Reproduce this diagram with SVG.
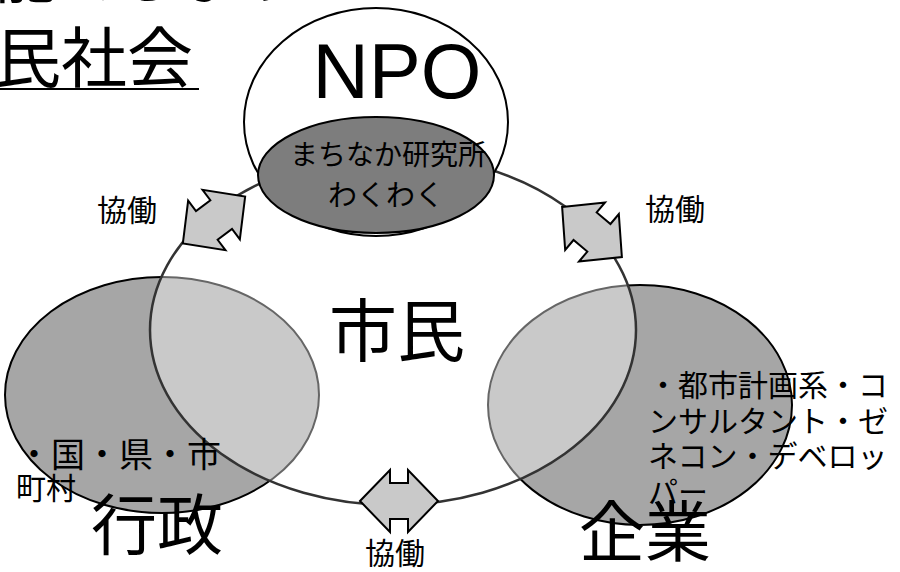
<svg xmlns="http://www.w3.org/2000/svg" width="900" height="572" viewBox="0 0 900 572">
<style>
.jp{font-family:"Noto Sans CJK JP","Noto Sans CJK SC",sans-serif;fill:#000}
.lbl{font-size:30px}
.big{font-size:66px}
.side{fill:#a6a6a6;stroke:#000;stroke-width:2}
.arrow{fill:#c9c9c9;stroke:#000;stroke-width:2;stroke-linejoin:miter}
</style>
<defs>
<path id="dbl" d="M-39,0 L-9,-31 L-9,-18 L9,-18 L9,-31 L39,0 L9,31 L9,18 L-9,18 L-9,31 Z"/>
</defs>
<rect width="900" height="572" fill="#fff"/>
<g id="heading">
<text class="jp" x="-6" y="-2" font-size="62">能でしょうか？</text>
<text class="jp" x="-5" y="82" font-size="66">民社会</text>
<line x1="0" y1="89" x2="199" y2="89" stroke="#000" stroke-width="2"/>
</g>
<g id="gyousei">
<ellipse class="side" cx="162" cy="395" rx="157" ry="118"/>
</g>
<g id="kigyou">
<ellipse class="side" cx="640" cy="405" rx="152" ry="120"/>
</g>
<g id="shimin">
<ellipse cx="393" cy="330" rx="243" ry="175" fill="#fff" fill-opacity="0.4" stroke="#333" stroke-width="2.5"/>
<text class="jp" x="397" y="356" font-size="68" text-anchor="middle">市民</text>
</g>
<g id="npo">
<ellipse cx="376" cy="122" rx="132" ry="114" fill="#fff" stroke="#000" stroke-width="2"/>
<text x="397" y="98" font-family="Liberation Sans, Arial, sans-serif" font-size="78" text-anchor="middle">NPO</text>
</g>
<g id="machinaka">
<ellipse cx="376" cy="175" rx="118" ry="58" fill="#7d7d7d" stroke="#000" stroke-width="2"/>
<text class="jp" x="388" y="165" font-size="28" text-anchor="middle">まちなか研究所</text>
<text class="jp" x="386" y="206" font-size="29" text-anchor="middle">わくわく</text>
</g>
<g id="connectors">
<use href="#dbl" class="arrow" transform="translate(214,220) rotate(-37)"/>
<use href="#dbl" class="arrow" transform="translate(592,232) rotate(40)"/>
<use href="#dbl" class="arrow" transform="translate(399,501)"/>
<text class="jp lbl" x="127" y="221" text-anchor="middle">協働</text>
<text class="jp lbl" x="675" y="220" text-anchor="middle">協働</text>
<text class="jp lbl" x="395" y="564" text-anchor="middle">協働</text>
</g>
<g id="gyousei-text">
<text class="jp" x="17" y="467" font-size="34">・国・県・市</text>
<text class="jp" x="16" y="499" font-size="30">町村</text>
<text class="jp big" x="157" y="549" text-anchor="middle">行政</text>
</g>
<g id="kigyou-text">
<text class="jp" x="648" y="396" font-size="30">・都市計画系・コ</text>
<text class="jp" x="648" y="432" font-size="30">ンサルタント・ゼ</text>
<text class="jp" x="648" y="467" font-size="30">ネコン・デベロッ</text>
<text class="jp" x="648" y="503" font-size="30">パー</text>
<text class="jp big" x="645" y="556" text-anchor="middle">企業</text>
</g>
</svg>
